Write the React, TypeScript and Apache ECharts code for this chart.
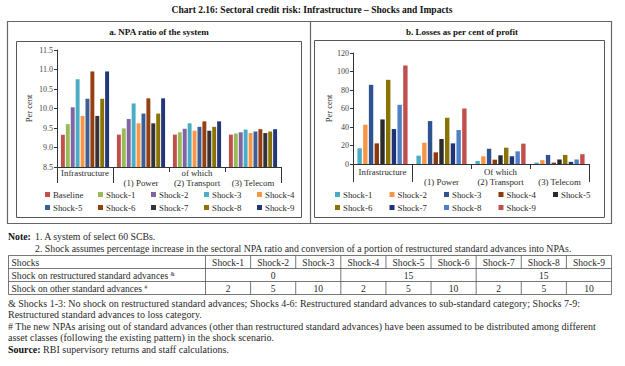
import React, { useEffect, useRef } from "react";
import * as echarts from "echarts";

const FONT = "Liberation Serif";

// ---------- Chart a: NPA ratio ----------
const categoriesA = ["Infrastructure", "(1) Power", "(2) Transport", "(3) Telecom"];
const xTopA = ["Infrastructure", "", "of which", ""];
const xBottomA = ["", "(1) Power", "(2) Transport", "(3) Telecom"];
const namesA = ["Baseline", "Shock-1", "Shock-2", "Shock-3", "Shock-4", "Shock-5", "Shock-6", "Shock-7", "Shock-8", "Shock-9"];
const colorsA = ["#c0504d", "#9bbb59", "#8064a2", "#4bacc6", "#f79646", "#3a5e96", "#953f12", "#333333", "#8a7400", "#22367a"];
const npaBaseline = [9.33, 9.33, 9.33, 9.33];
const npaShock1 = [9.6, 9.49, 9.39, 9.36];
const npaShock2 = [10.03, 9.73, 9.48, 9.39];
const npaShock3 = [10.75, 10.13, 9.62, 9.46];
const npaShock4 = [9.81, 9.62, 9.43, 9.37];
const npaShock5 = [10.25, 9.87, 9.53, 9.41];
const npaShock6 = [10.95, 10.26, 9.67, 9.47];
const npaShock7 = [9.81, 9.62, 9.43, 9.37];
const npaShock8 = [10.25, 9.87, 9.53, 9.41];
const npaShock9 = [10.95, 10.26, 9.67, 9.47];
const dataA = [npaBaseline, npaShock1, npaShock2, npaShock3, npaShock4, npaShock5, npaShock6, npaShock7, npaShock8, npaShock9];
const yMinA = 8.5, yMaxA = 11.5, yStepA = 0.5;

// ---------- Chart b: Losses as per cent of profit ----------
const categoriesB = ["Infrastructure", "(1) Power", "(2) Transport", "(3) Telecom"];
const xTopB = ["Infrastructure", "", "Of which", ""];
const xBottomB = ["", "(1) Power", "(2) Transport", "(3) Telecom"];
const namesB = ["Shock-1", "Shock-2", "Shock-3", "Shock-4", "Shock-5", "Shock-6", "Shock-7", "Shock-8", "Shock-9"];
const colorsB = ["#4bacc6", "#f79646", "#2f5291", "#8b3a0e", "#2b2b2b", "#8a7400", "#1f3378", "#4f7fc8", "#c0504d"];
const lossShock1 = [17, 9, 3.2, 1.5];
const lossShock2 = [42.5, 23, 8.3, 4.2];
const lossShock3 = [85.6, 46.4, 16.5, 9.8];
const lossShock4 = [22.3, 12.6, 4.7, 1.5];
const lossShock5 = [48.2, 27, 9.4, 4.9];
const lossShock6 = [91, 50, 17.6, 9.8];
const lossShock7 = [37.8, 22.3, 8.3, 2.3];
const lossShock8 = [64, 36.7, 13.7, 4.9];
const lossShock9 = [106.5, 60, 22, 10.6];
const dataB = [lossShock1, lossShock2, lossShock3, lossShock4, lossShock5, lossShock6, lossShock7, lossShock8, lossShock9];
const yMinB = 0, yMaxB = 120, yStepB = 20;

// ---------- Texts & table ----------
const mainTitle = "Chart 2.16: Sectoral credit risk: Infrastructure \u2013 Shocks and Impacts";
const titleA = "a. NPA ratio of the system";
const titleB = "b. Losses as per cent of profit";
const yName = "Per cent";
const note1 = "1. A system of select 60 SCBs.";
const note2 = "2. Shock assumes percentage increase in the sectoral NPA ratio and conversion of a portion of restructured standard advances into NPAs.";
const tableHeader = ["Shock-1", "Shock-2", "Shock-3", "Shock-4", "Shock-5", "Shock-6", "Shock-7", "Shock-8", "Shock-9"];
const rowLabels = ["Shocks", "Shock on restructured standard advances", "Shock on other standard advances"];
const rowMarks = ["", "&", "#"];
const restructuredShock = [0, 15, 15];
const otherShock = [2, 5, 10, 2, 5, 10, 2, 5, 10];
const footnotes = [
  "& Shocks 1-3: No shock on restructured standard advances; Shocks 4-6: Restructured standard advances to sub-standard category; Shocks 7-9:",
  "Restructured standard advances to loss category.",
  "# The new NPAs arising out of standard advances (other than restructured standard advances) have been assumed to be distributed among different",
  "asset classes (following the existing pattern) in the shock scenario.",
];
const sourceLabel = "Source:";
const sourceText = " RBI supervisory returns and staff calculations.";

// ---------- Layout ----------
const GA = { left: 57, top: 50, width: 224, height: 117 };
const GB = { left: 353, top: 53, width: 236, height: 111 };
const TXT = "#2a2a2a";
const NOTE_SIZE = 9.8;
const FOOT_SIZE = 10;
const TABLE_SIZE = 9.6;

function txt(x: number, y: number, text: string, size: number, opts: any = {}) {
  return {
    type: "text",
    x,
    y,
    silent: true,
    style: {
      text,
      fontFamily: FONT,
      fontSize: size,
      fill: opts.fill || TXT,
      fontWeight: opts.bold ? "bold" : "normal",
      align: opts.align || "left",
      verticalAlign: "middle",
    },
  };
}

function line(x1: number, y1: number, x2: number, y2: number, stroke = "#333", w = 1) {
  return { type: "line", silent: true, shape: { x1, y1, x2, y2 }, style: { stroke, lineWidth: w } };
}

function separators(g: any, longLen: number, shortLen: number) {
  const out: any[] = [];
  const n = 4;
  const yb = g.top + g.height;
  for (let k = 0; k <= n; k++) {
    const x = Math.round(g.left + (k * g.width) / n) + 0.5;
    const len = k === 0 || k === 1 || k === n ? longLen : shortLen;
    out.push(line(x, yb, x, yb + len, "#333", 1));
  }
  return out;
}

function legends(names: string[], x0: number, dx: number, y0: number, dy: number) {
  return names.map((n, i) => ({
    data: [n],
    left: x0 + (i % 5) * dx,
    top: y0 + Math.floor(i / 5) * dy,
    padding: 0,
    itemWidth: 5,
    itemHeight: 5,
    icon: "rect",
    itemGap: 0,
    selectedMode: false,
    textStyle: { fontFamily: FONT, fontSize: 8.8, color: TXT, padding: [0, 0, 0, -2] },
  }));
}

function xAxisCfg(cats: string[], top: string[], bottom: string[], margin: number) {
  return {
    type: "category",
    data: cats,
    axisLine: { show: true, lineStyle: { color: "#333", width: 1 } },
    axisTick: { show: false },
    axisLabel: {
      interval: 0,
      margin,
      fontFamily: FONT,
      fontSize: 8.8,
      lineHeight: 10,
      color: TXT,
      formatter: (_v: string, i: number) => `${top[i] || " "}\n${bottom[i] || " "}`,
    },
  };
}

function yAxisCfg(min: number, max: number, step: number, digits: number, gap: number) {
  return {
    type: "value",
    min,
    max,
    interval: step,
    name: yName,
    nameLocation: "middle",
    nameRotate: 90,
    nameGap: gap,
    nameTextStyle: { fontFamily: FONT, fontSize: 8.5, color: TXT },
    axisLine: { show: true, lineStyle: { color: "#333", width: 1 } },
    axisTick: { show: true, inside: false, length: 3, lineStyle: { color: "#333" } },
    splitLine: { show: false },
    axisLabel: {
      margin: 4,
      fontFamily: FONT,
      fontSize: 8,
      color: "#444",
      formatter: (v: number) => v.toFixed(digits),
    },
  };
}

function tableGraphics() {
  const out: any[] = [];
  const x0 = 8.5, x1 = 611.5, c0 = 205.5;
  const top = 255.5, rh = 13;
  const cw = (x1 - c0) / 9;
  const stroke = "#555";
  for (let r = 0; r <= 3; r++) out.push(line(x0, top + r * rh, x1, top + r * rh, stroke, 0.8));
  out.push(line(x0, top, x0, top + 3 * rh, stroke, 0.8));
  out.push(line(x1, top, x1, top + 3 * rh, stroke, 0.8));
  out.push(line(c0, top, c0, top + 3 * rh, stroke, 0.8));
  for (let k = 1; k < 9; k++) {
    const x = c0 + k * cw;
    out.push(line(x, top, x, top + rh, stroke, 0.8));
    out.push(line(x, top + 2 * rh, x, top + 3 * rh, stroke, 0.8));
    if (k % 3 === 0) out.push(line(x, top + rh, x, top + 2 * rh, stroke, 0.8));
  }
  rowLabels.forEach((lab, r) => {
    const y = top + r * rh + rh / 2 + 0.5;
    if (rowMarks[r]) {
      out.push({
        type: "text",
        x: x0 + 3,
        y,
        silent: true,
        style: {
          text: `{a|${lab} }{s|${rowMarks[r]}}`,
          verticalAlign: "middle",
          rich: {
            a: { fontFamily: FONT, fontSize: TABLE_SIZE, fill: TXT, verticalAlign: "bottom" },
            s: { fontFamily: FONT, fontSize: 5.5, fill: TXT, verticalAlign: "top", padding: [0, 0, 4, 0] },
          },
        },
      });
    } else out.push(txt(x0 + 3, y, lab, TABLE_SIZE));
  });
  tableHeader.forEach((h, k) => out.push(txt(c0 + (k + 0.5) * cw, top + rh / 2 + 0.5, h, TABLE_SIZE, { align: "center" })));
  restructuredShock.forEach((v, k) =>
    out.push(txt(c0 + (k * 3 + 1.5) * cw, top + rh * 1.5 + 0.5, String(v), TABLE_SIZE, { align: "center" }))
  );
  otherShock.forEach((v, k) =>
    out.push(txt(c0 + (k + 0.5) * cw, top + rh * 2.5 + 0.5, String(v), TABLE_SIZE, { align: "center" }))
  );
  return out;
}

function buildA(): any {
  const graphic: any[] = [
    txt(312, 10, mainTitle, 9.5, { bold: true, align: "center", fill: "#111" }),
    { type: "rect", silent: true, shape: { x: 7.5, y: 21.5, width: 604, height: 202 }, style: { fill: "none", stroke: "#666", lineWidth: 1.2 } },
    line(310.5, 21.5, 310.5, 223.5, "#666", 1.2),
    { type: "rect", silent: true, shape: { x: 16.5, y: 41.5, width: 285, height: 176 }, style: { fill: "none", stroke: "#555", lineWidth: 1 } },
    { type: "rect", silent: true, shape: { x: 314.5, y: 40.5, width: 290, height: 177 }, style: { fill: "none", stroke: "#555", lineWidth: 1 } },
    txt(159, 32, titleA, 9, { bold: true, align: "center", fill: "#111" }),
    txt(462, 32, titleB, 9, { bold: true, align: "center", fill: "#111" }),
    txt(8, 236, "Note:", NOTE_SIZE, { bold: true, fill: "#111" }),
    txt(35, 236, note1, NOTE_SIZE),
    txt(35, 248, note2, NOTE_SIZE),
    ...footnotes.map((f, i) => txt(8, 303 + i * 11.5, f, FOOT_SIZE)),
    {
      type: "text",
      x: 8,
      y: 303 + 4 * 11.5,
      silent: true,
      style: {
        text: `{b|${sourceLabel}}{r|${sourceText}}`,
        verticalAlign: "middle",
        rich: {
          b: { fontFamily: FONT, fontSize: FOOT_SIZE, fontWeight: "bold", fill: "#111" },
          r: { fontFamily: FONT, fontSize: FOOT_SIZE, fill: TXT },
        },
      },
    },
    ...tableGraphics(),
    ...separators(GA, 16, 5),
  ];
  return {
    animation: false,
    backgroundColor: "#ffffff",
    grid: [{ ...GA }],
    xAxis: [xAxisCfg(categoriesA, xTopA, xBottomA, 1)],
    yAxis: [yAxisCfg(yMinA, yMaxA, yStepA, 1, 24)],
    legend: legends(namesA, 45, 53, 190, 13),
    series: namesA.map((n, i) => ({
      name: n,
      type: "bar",
      data: dataA[i],
      barGap: "25%",
      barCategoryGap: "14%",
      itemStyle: { color: colorsA[i] },
    })),
    graphic,
  };
}

function buildB(): any {
  return {
    animation: false,
    grid: [{ ...GB }],
    xAxis: [xAxisCfg(categoriesB, xTopB, xBottomB, 3)],
    yAxis: [yAxisCfg(yMinB, yMaxB, yStepB, 0, 19)],
    legend: legends(namesB, 335, 54.5, 190, 13),
    series: namesB.map((n, i) => ({
      name: n,
      type: "bar",
      data: dataB[i],
      barGap: "30%",
      barCategoryGap: "15%",
      itemStyle: { color: colorsB[i] },
    })),
    graphic: separators(GB, 18, 5),
  };
}

export default function App() {
  const refA = useRef<HTMLDivElement>(null);
  const refB = useRef<HTMLDivElement>(null);
  useEffect(() => {
    const ca = echarts.init(refA.current!, null, { renderer: "svg" });
    const cb = echarts.init(refB.current!, null, { renderer: "svg" });
    ca.setOption(buildA());
    cb.setOption(buildB());
    return () => {
      ca.dispose();
      cb.dispose();
    };
  }, []);
  return (
    <div style={{ position: "fixed", left: 0, top: 0, width: 625, height: 366, background: "#fff" }}>
      <div ref={refA} style={{ position: "absolute", left: 0, top: 0, width: 625, height: 366 }} />
      <div ref={refB} style={{ position: "absolute", left: 0, top: 0, width: 625, height: 366 }} />
    </div>
  );
}
